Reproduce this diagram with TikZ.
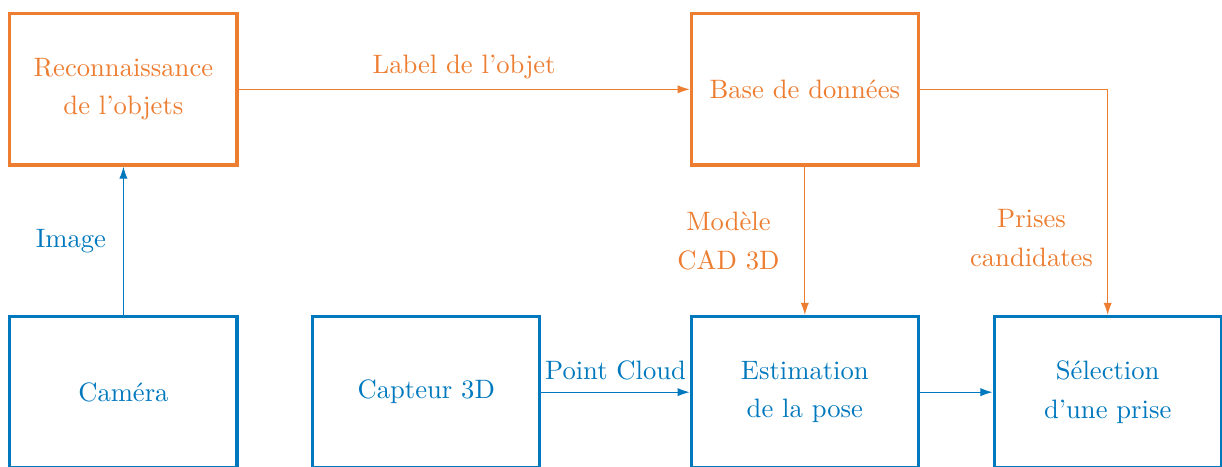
\documentclass[tikz,border=0pt]{standalone}
\usepackage{tikz}
\usetikzlibrary{arrows.meta, positioning}
\usepackage{xcolor}
\definecolor{orangeobj}{HTML}{ED7D31}
\definecolor{bluecap}{HTML}{0078BE}

\begin{document}
\begin{tikzpicture}[
			node distance=4cm, on grid,
			orangebox/.style={rectangle, draw=orangeobj, very thick, minimum width=3cm, minimum height=2cm, text=orangeobj, align=center},
			bluebox/.style={rectangle, draw=bluecap, very thick, minimum width=3cm, minimum height=2cm, text=bluecap, align=center},
			orangearrow/.style={-{Latex[length=1.6mm,width=1.1mm]}, orangeobj},
			bluearrow/.style={-{Latex[length=1.6mm,width=1.1mm]}, bluecap},
			]
			\useasboundingbox (-1.63,-0.98) rectangle (14.51,5.18);
			
			% Nodes
			\node (camera) [bluebox] {Caméra};
			\node (capteur) [bluebox, right=of camera] {Capteur 3D};
			\node (pose) [bluebox, right=5cm of capteur] {Estimation\\[2.5pt]de la pose};
			\node (prise) [bluebox, right=of pose] {Sélection\\[2.5pt]d'une prise};
			\node (reco) [orangebox, above=of camera] {Reconnaissance\\[2.5pt]de l'objets};
			\node (base) [orangebox, above=of pose] {Base de données};
			
			% Arrows
			\draw[bluearrow] (camera) -- node[midway, left=3pt, text=bluecap] {Image} (reco);
			\draw[orangearrow] (reco) -- node[midway, above=0.5pt, text=orangeobj] {Label de l'objet} (base);
			\draw[bluearrow] (capteur) -- node[midway, above=1pt, text=bluecap] {Point Cloud} (pose);
			\draw[bluearrow] (pose) -- (prise);
			\draw[orangearrow] (base) -- node[midway, left=6pt, text=orangeobj, align=center] {Modèle\\[2.5pt]CAD 3D} (pose);
			\draw[orangearrow] (base) -| node[pos=0.83, left=2pt, text=orangeobj, align=center] {Prises\\[2.5pt]candidates} (prise);
		\end{tikzpicture}
\end{document}
